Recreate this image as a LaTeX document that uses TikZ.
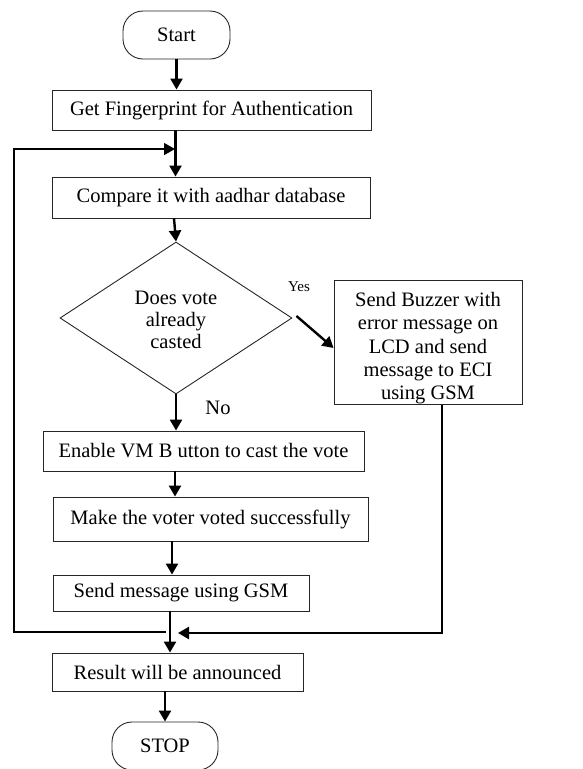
\documentclass[tikz,border=0pt]{standalone}
\usepackage{fontspec}
\setmainfont{Liberation Serif}
\usetikzlibrary{shapes.geometric,arrows.meta}
\begin{document}
\begin{tikzpicture}[x=1pt,y=-1pt,
  box/.style={draw=black!85,line width=0.9pt,rectangle,inner sep=0pt,align=center,font=\fontsize{20.5}{23}\selectfont},
  term/.style={box,rounded corners=20pt},
  dec/.style={draw=black!85,line width=0.9pt,diamond,inner sep=0pt,align=center,font=\fontsize{20.5}{22}\selectfont},
  arr/.style={line width=2.4pt,-{Triangle[length=11pt,width=12pt]}},
  thinarr/.style={line width=1.3pt,-{Triangle[length=11pt,width=12pt]}},
  lbl/.style={font=\fontsize{20.5}{22}\selectfont,inner sep=0pt}]
\useasboundingbox (0,0) rectangle (582,769);
\node[term,minimum width=107pt,minimum height=48pt] (start) at (176.5,35) {Start};
\node[box,minimum width=319pt,minimum height=40pt] (get) at (211.5,110) {Get Fingerprint for Authentication};
\node[box,minimum width=318pt,minimum height=41pt] (cmp) at (211,197.5) {Compare it with aadhar database};
\node[dec,minimum width=232pt,minimum height=152pt,aspect=1.53] (dia) at (176,318) {\rule{0pt}{18pt}Does vote\\already\\casted};
\node[box,minimum width=188pt,minimum height=121pt,font=\fontsize{20.5}{23.3}\selectfont] (buz) at (428,342.5) {\rule{0pt}{26pt}Send Buzzer with\\error message on\\LCD and send\\message to ECI\\using GSM};
\node[box,minimum width=321pt,minimum height=40pt] (en) at (203.5,451) {Enable VM B utton to cast the vote};
\node[box,minimum width=315pt,minimum height=44pt] (mk) at (210.5,519) {Make the voter voted successfully};
\node[box,minimum width=256pt,minimum height=36pt] (snd) at (181,593) {Send message using GSM};
\node[box,minimum width=251pt,minimum height=38pt] (res) at (177.5,672) {Result will be announced};
\node[term,minimum width=106pt,minimum height=48pt] (stop) at (165,746) {STOP};
\node[lbl,font=\fontsize{15}{16}\selectfont] (yes) at (299,287) {Yes};
\node[lbl] (no) at (218,408) {No};
\coordinate (lft) at (14,0);
\coordinate (jtop) at (175,149);
\coordinate (jbot) at (166,632);
\coordinate (rj) at (178,633);
% main flow
\draw[arr] (start.south) -- (start.south |- get.north);
\draw[arr] ([xshift=-1pt]start.south |- get.south) -- ([xshift=-1pt]start.south |- cmp.north);
\draw[arr] ([xshift=-2.5pt]start.south |- cmp.south) -- (dia.north);
\draw[arr] ([shift={(4pt,2pt)}]dia.east) -- ([yshift=-5.5pt]buz.west);
\draw[arr] (dia.south) -- (dia.south |- en.north);
\draw[arr] ([xshift=-1pt]dia.south |- en.south) -- ([xshift=-1pt]dia.south |- mk.north);
\draw[arr] ([xshift=-9pt]snd.north |- mk.south) -- ([xshift=-9pt]snd.north);
\draw[arr] ([xshift=-11pt]snd.south) -- ([xshift=-11pt]snd.south |- res.north);
\draw[arr] (res.south -| stop.north) -- (stop.north);
% loops
\draw[thinarr] (jbot) -- (jbot -| lft) -- (jtop -| lft) -- (jtop);
\draw[arr] ([xshift=14pt]buz.south) |- (rj);
\end{tikzpicture}
\end{document}
